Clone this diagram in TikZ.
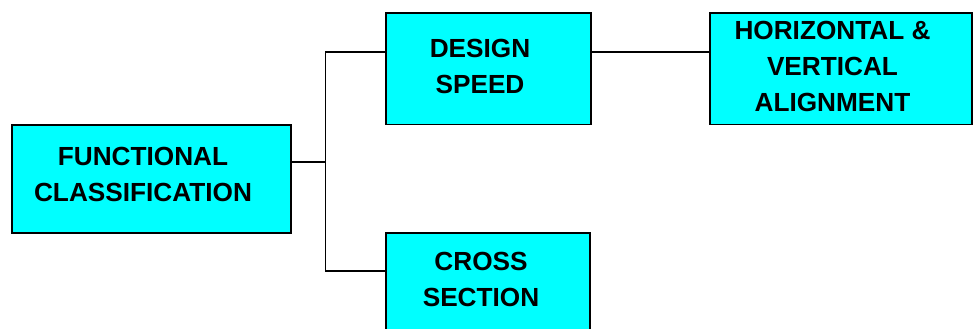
\documentclass[tikz,border=0pt]{standalone}
\usepackage{fontspec}
\setmainfont{Liberation Sans}
\definecolor{boxcyan}{HTML}{00FFFF}
\begin{document}
\begin{tikzpicture}[x=1pt,y=-1pt,
  box/.style={draw=black, line width=1.5pt, fill=boxcyan, inner sep=0pt, anchor=north west},
  lbl/.style={font=\fontsize{26.2}{36}\selectfont\bfseries, align=center, inner sep=0pt},
  conn/.style={draw=black, line width=1.3pt}]
\useasboundingbox (0,0) rectangle (975,329);
\clip (0,0) rectangle (975,329);
\node[box, minimum width=279pt, minimum height=108pt] (fc) at (11,124) {};
\node[box, minimum width=205pt, minimum height=111pt] (ds) at (385,12.5) {};
\node[box, minimum width=262pt, minimum height=111pt] (hv) at (709,12.5) {};
\node[box, minimum width=204pt, minimum height=120pt] (cs) at (385,232) {};
\node[lbl] (fct) at (143,174.5) {FUNCTIONAL\\CLASSIFICATION};
\node[lbl] (dst) at (480,66) {DESIGN\\SPEED};
\node[lbl] (hvt) at (832.5,66) {HORIZONTAL \&\\VERTICAL\\ALIGNMENT};
\node[lbl] (cst) at (481,279.5) {CROSS\\SECTION};
\coordinate (j) at (325.5,162);
\coordinate (top) at (0,52);
\coordinate (bot) at (0,271);
\draw[conn] (fc.east |- j) -- (j) |- (ds.west |- top);
\draw[conn] (j) |- (cs.west |- bot);
\draw[conn] (ds.east |- top) -- (hv.west |- top);
\end{tikzpicture}
\end{document}
